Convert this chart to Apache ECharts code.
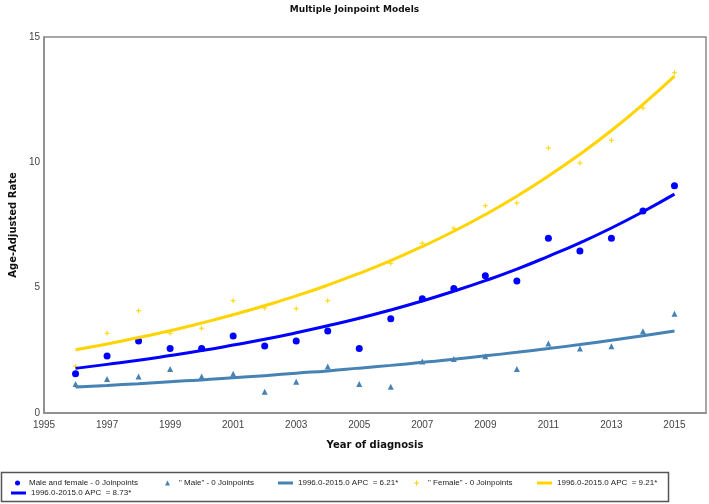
<!DOCTYPE html>
<html>
<head>
<meta charset="utf-8">
<title>Multiple Joinpoint Models</title>
<script src="https://cdn.jsdelivr.net/npm/echarts@6/dist/echarts.min.js"></script>
<style>
  html, body { margin: 0; padding: 0; background: #fff; }
  #chart { width: 709px; height: 504px; }
</style>
</head>
<body>
<div id="chart"></div>
<script>
// 数据
const years = [1996, 1997, 1998, 1999, 2000, 2001, 2002, 2003, 2004, 2005,
  2006, 2007, 2008, 2009, 2010, 2011, 2012, 2013, 2014, 2015]

// observed rates
const bothRate = [1.57, 2.27, 2.87, 2.57, 2.57, 3.07, 2.67, 2.87, 3.27, 2.57,
  3.76, 4.56, 4.97, 5.48, 5.27, 6.97, 6.46, 6.97, 8.06, 9.07]
const maleRate = [1.16, 1.36, 1.46, 1.76, 1.46, 1.57, 0.85, 1.25, 1.86, 1.16,
  1.05, 2.05, 2.15, 2.26, 1.76, 2.77, 2.57, 2.66, 3.26, 3.96]
const femaleRate = [1.87, 3.18, 4.08, 3.18, 3.38, 4.48, 4.19, 4.16, 4.48, 3.78,
  5.97, 6.77, 7.37, 8.27, 8.38, 10.57, 9.97, 10.88, 12.17, 13.57]

// fitted model lines
const bothFit = [1.78, 1.94, 2.10, 2.29, 2.49, 2.71, 2.94, 3.20, 3.48, 3.78,
  4.11, 4.47, 4.86, 5.28, 5.74, 6.25, 6.79, 7.38, 8.03, 8.73]
const maleFit = [1.04, 1.10, 1.17, 1.25, 1.32, 1.41, 1.49, 1.59, 1.68, 1.79,
  1.90, 2.02, 2.14, 2.28, 2.42, 2.57, 2.73, 2.90, 3.08, 3.27]
const femaleFit = [2.52, 2.75, 3.01, 3.28, 3.59, 3.92, 4.28, 4.67, 5.10, 5.57,
  6.08, 6.64, 7.25, 7.92, 8.65, 9.45, 10.32, 11.27, 12.31, 13.44]

// 图例文字
const seriesNames = [
  'Male and female - 0 Joinpoints',
  '" Male" - 0 Joinpoints',
  '1996.0-2015.0 APC  = 6.21*',
  '" Female" - 0 Joinpoints',
  '1996.0-2015.0 APC  = 9.21*',
  '1996.0-2015.0 APC  = 8.73*'
]

const xMinYear = 1995
const xMaxYear = 2016
const xStep = 2
const yMax = 15
const yStep = 5

const toPairs = (vals) => years.map((y, i) => [y - xMinYear, vals[i]])

const chart = echarts.init(document.getElementById('chart'))

const plusPath = 'path://M2,0H3V2H5V3H3V5H2V3H0V2H2Z'

const scatterSeries = (name, vals, symbol, size, color) => ({
  name,
  type: 'scatter',
  data: toPairs(vals),
  symbol,
  symbolSize: size,
  itemStyle: { color, opacity: 1 }
})

const lineSeries = (name, vals, color) => ({
  name,
  type: 'line',
  data: toPairs(vals),
  smooth: true,
  showSymbol: false,
  lineStyle: { color, width: 3 },
  itemStyle: { color }
})

// one legend per item so each sits where the original has it
const legendAt = (name, left, top, isLine) => ({
  data: [name],
  left,
  top,
  padding: 0,
  selectedMode: false,
  itemWidth: isLine ? 15 : 5,
  itemHeight: isLine ? 3 : 5,
  icon: isLine ? 'rect' : undefined,
  itemGap: 0,
  textStyle: {
    fontSize: 8,
    color: '#222',
    padding: isLine ? 0 : [0, 0, 0, 4],
    fontFamily: '"Liberation Sans", Arial, sans-serif'
  }
})

const option = {
  animation: false,
  backgroundColor: '#fff',
  title: {
    text: 'Multiple Joinpoint Models',
    left: 'center',
    top: 0,
    textStyle: {
      fontSize: 9,
      fontWeight: 'bold',
      color: '#111',
      fontFamily: '"DejaVu Sans", Verdana, sans-serif'
    }
  },
  grid: {
    left: 44,
    right: 2,
    top: 37,
    bottom: 91,
    show: true,
    borderColor: '#8a8a8a',
    borderWidth: 1.5
  },
  xAxis: {
    type: 'value',
    min: 0,
    max: xMaxYear - xMinYear,
    interval: xStep,
    name: 'Year of diagnosis',
    nameLocation: 'middle',
    nameGap: 27,
    nameTextStyle: {
      fontSize: 10,
      fontWeight: 'bold',
      color: '#111',
      fontFamily: '"DejaVu Sans", Verdana, sans-serif'
    },
    splitLine: { show: false },
    axisTick: { show: false },
    axisLine: { lineStyle: { color: '#8a8a8a', width: 1.5 } },
    axisLabel: {
      color: '#444',
      fontSize: 10,
      margin: 7,
      fontFamily: '"Liberation Sans", Arial, sans-serif',
      formatter: (v) => (v % xStep === 0 ? String(v + xMinYear) : '')
    }
  },
  yAxis: {
    type: 'value',
    min: 0,
    max: yMax,
    interval: yStep,
    name: 'Age-Adjusted Rate',
    nameLocation: 'middle',
    nameGap: 20,
    nameTextStyle: {
      fontSize: 10,
      fontWeight: 'bold',
      color: '#111',
      fontFamily: '"DejaVu Sans", Verdana, sans-serif'
    },
    splitLine: { show: false },
    axisTick: { show: false },
    axisLine: { show: true, lineStyle: { color: '#8a8a8a', width: 1.5 } },
    axisLabel: {
      color: '#444',
      fontSize: 10,
      margin: 4,
      fontFamily: '"Liberation Sans", Arial, sans-serif'
    }
  },
  legend: [
    legendAt(seriesNames[0], 15, 479, false),
    legendAt(seriesNames[1], 165, 479, false),
    legendAt(seriesNames[2], 278, 479, true),
    legendAt(seriesNames[3], 414, 479, false),
    legendAt(seriesNames[4], 537, 479, true),
    legendAt(seriesNames[5], 11, 489, true)
  ],
  graphic: [
    {
      type: 'rect',
      shape: { x: 1.5, y: 472.5, width: 667, height: 29 },
      style: { fill: 'none', stroke: '#555', lineWidth: 1.5 },
      z: -1
    }
  ],
  series: [
    scatterSeries(seriesNames[0], bothRate, 'circle', 7, '#0000ff'),
    scatterSeries(seriesNames[1], maleRate, 'triangle', 6, '#4682b4'),
    lineSeries(seriesNames[2], maleFit, '#4682b4'),
    scatterSeries(seriesNames[3], femaleRate, plusPath, 5, '#ffd400'),
    lineSeries(seriesNames[4], femaleFit, '#ffd400'),
    lineSeries(seriesNames[5], bothFit, '#0000ff')
  ]
}

chart.setOption(option)
</script>
</body>
</html>
